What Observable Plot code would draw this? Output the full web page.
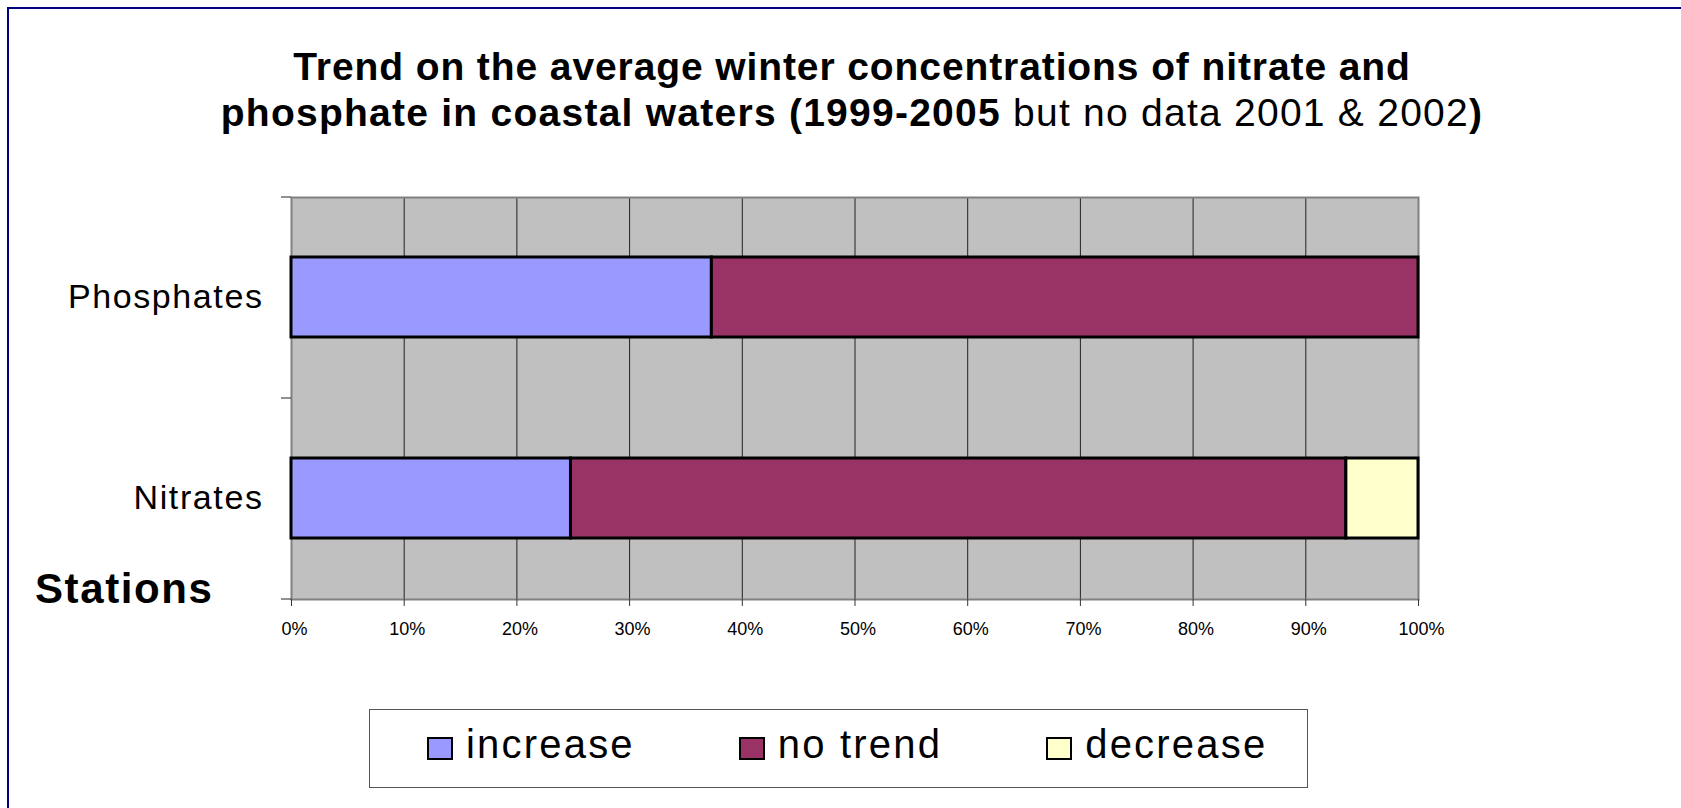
<!DOCTYPE html>
<html>
<head>
<meta charset="utf-8">
<script src="https://cdn.jsdelivr.net/npm/d3@7"></script>
<script src="https://cdn.jsdelivr.net/npm/@observablehq/plot@0.6"></script>
<style>
  html, body { margin: 0; padding: 0; background: #fff; overflow: hidden; }
  body { font-family: "Liberation Sans", Arial, Helvetica, sans-serif; }
  #page { position: relative; width: 1681px; height: 808px; overflow: hidden; background: #fff; }
  #frame { position: absolute; left: 7px; top: 7px; width: 1800px; height: 900px; border: 2px solid #000080; box-sizing: border-box; }
  #title { position: absolute; left: 0; top: 44px; width: 1704px; text-align: center; font-size: 39px; line-height: 46px; letter-spacing: 0.9px; color: #000; }
  #title .l2 { letter-spacing: 1.25px; }
  #title b { font-weight: bold; }
  #title span.n { font-weight: normal; }
  #stations { position: absolute; left: 35px; top: 565px; font-size: 42px; line-height: 48px; font-weight: bold; letter-spacing: 1.6px; color: #000; }
  #chart { position: absolute; left: 0; top: 0; }
  #chart svg { overflow: visible; }
  #legend { position: absolute; left: 369px; top: 709px; width: 939px; height: 79px; box-sizing: border-box; border: 1.5px solid #555; background: #fff; padding: 11px 0 0 57px; display: flex; column-gap: 104px; }
  .item { display: flex; align-items: baseline; font-size: 40px; line-height: 46px; letter-spacing: 2.2px; color: #000; }
  .sw { display: inline-block; width: 26px; height: 23px; box-sizing: border-box; border: 2.5px solid #000; margin-right: 13px; position: relative; top: 2px; }
  g[aria-label="y-axis tick label"] text { letter-spacing: 1.6px; }
</style>
</head>
<body>
<div id="page">
  <div id="frame"></div>
  <div id="title">
    <b>Trend on the average winter concentrations of nitrate and</b><br>
    <span class="l2"><b>phosphate in coastal waters (1999-2005</b><span class="n"> but no data 2001 &amp; 2002</span><b>)</b></span>
  </div>
  <div id="chart"></div>
  <div id="stations">Stations</div>
  <div id="legend"></div>
</div>
<script>
// ---- data ----
const stations = ["Phosphates", "Nitrates"];
const trends = ["increase", "no trend", "decrease"];
const increase = [37.3, 24.8];   // % of stations
const noTrend  = [62.7, 68.8];
const decrease = [0, 6.4];
const trendColors = ["#9999FF", "#993366", "#FFFFCC"];
const xTicks = [0, 10, 20, 30, 40, 50, 60, 70, 80, 90, 100];
const gridTicks = [10, 20, 30, 40, 50, 60, 70, 80, 90];

const series = [increase, noTrend, decrease];
const rows = stations.flatMap((s, i) =>
  trends.map((t, j) => ({station: s, trend: t, value: series[j][i]}))
).filter(d => d.value > 0);

// ---- layout ----
const W = 1681, H = 808;
const mL = 291, mR = 263, mT = 197, mB = 209;
const padInner = 0.6, padOuter = 0.3;
const plotH = H - mT - mB;
const step = plotH / (stations.length - padInner + 2 * padOuter);

const chart = Plot.plot({
  width: W,
  height: H,
  marginLeft: mL,
  marginRight: mR,
  marginTop: mT,
  marginBottom: mB,
  style: {fontFamily: '"Liberation Sans", Arial, sans-serif', background: "transparent", color: "#000"},
  x: {domain: [0, 100], label: null},
  y: {domain: stations, paddingInner: padInner, paddingOuter: padOuter, label: null},
  color: {domain: trends, range: trendColors},
  marks: [
    Plot.frame({fill: "#C0C0C0"}),
    Plot.gridX({ticks: gridTicks, stroke: "#222", strokeOpacity: 1, strokeWidth: 1}),
    Plot.frame({stroke: "#808080", strokeWidth: 2}),
    Plot.barX(rows, Plot.stackX({x: "value", y: "station", fill: "trend", stroke: "#000", strokeWidth: 3})),
    // x ticks
    Plot.axisX({ticks: xTicks, tickSize: 7, tickFormat: () => "", stroke: "#333", label: null}),
    // x tick labels
    Plot.axisX({ticks: xTicks, tickSize: 0, tickPadding: 23, dx: 3, fontSize: 18, tickFormat: d => d + "%", label: null}),
    // y category labels
    Plot.axisY({tickSize: 0, tickPadding: 28, fontSize: 34, label: null}),
    // y boundary ticks (between categories)
    Plot.axisY({tickSize: 10, tickFormat: () => "", dy: -step / 2, stroke: "#222", label: null}),
    Plot.axisY({ticks: [stations[stations.length - 1]], tickSize: 10, tickFormat: () => "", dy: step / 2, stroke: "#222", label: null})
  ]
});
document.getElementById("chart").appendChild(chart);

// ---- legend ----
const legend = document.getElementById("legend");
const colorScale = chart.scale("color");
trends.forEach(t => {
  const item = document.createElement("div");
  item.className = "item";
  const sw = document.createElement("span");
  sw.className = "sw";
  sw.style.background = colorScale.apply(t);
  const label = document.createElement("span");
  label.textContent = t;
  item.appendChild(sw);
  item.appendChild(label);
  legend.appendChild(item);
});
</script>
</body>
</html>
